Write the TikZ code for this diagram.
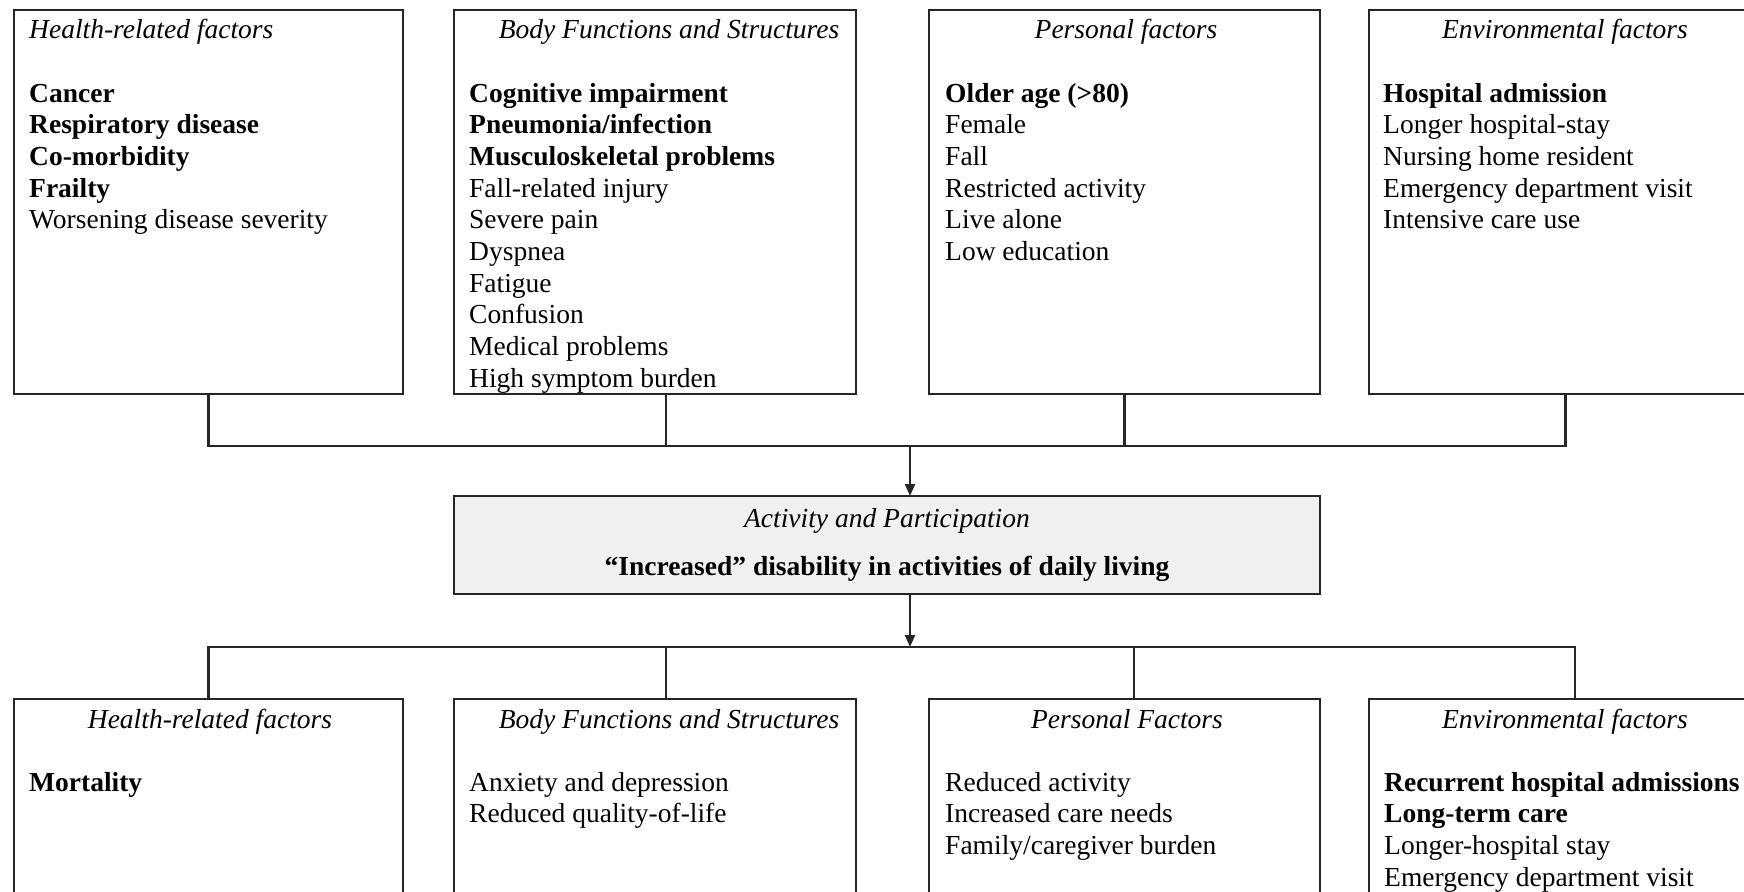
\documentclass[tikz,border=0pt]{standalone}
\usepackage{fontspec}
\setmainfont{Liberation Serif}
\usetikzlibrary{arrows.meta}
\begin{document}
\begin{tikzpicture}[x=1pt,y=-1pt,
  every node/.style={font=\fontsize{27.5pt}{31.7pt}\selectfont, text=black},
  box/.style={draw=black!85, line width=2.6pt, outer sep=0pt, inner sep=0pt, rectangle},
  link/.style={draw=black!85, line width=2.2pt},
  arr/.style={link, -{Triangle[length=12pt,width=10pt]}},
  head/.style={font=\fontsize{27.5pt}{31.7pt}\selectfont\itshape, inner sep=0pt, anchor=base},
  items/.style={inner sep=0pt, anchor=base west}]
\useasboundingbox (0,0) rectangle (1744,891);

% ---------- boxes ----------
\node[box, minimum width=389pt, minimum height=384pt] (t1) at (208.5,202) {};
\node[box, minimum width=402pt, minimum height=384pt] (t2) at (655,202) {};
\node[box, minimum width=391pt, minimum height=384pt] (t3) at (1124.5,202) {};
\node[box, minimum width=393pt, minimum height=384pt] (t4) at (1565.5,202) {};
\node[box, fill=black!6, minimum width=866pt, minimum height=98pt] (m) at (887,545) {};
\node[box, minimum width=389pt, minimum height=200pt] (b1) at (208.5,799) {};
\node[box, minimum width=402pt, minimum height=200pt] (b2) at (655,799) {};
\node[box, minimum width=391pt, minimum height=200pt] (b3) at (1124.5,799) {};
\node[box, minimum width=393pt, minimum height=200pt] (b4) at (1565.5,799) {};

% ---------- connectors ----------
\coordinate (hub1) at (910,446);
\coordinate (hub2) at (910,647);
\coordinate (d2) at (666,394);
\coordinate (e2) at (666,699);
\coordinate (e3) at (1134,699);
\coordinate (e4) at (1575,699);

\draw[link] (t1.south) |- (hub1) -| (t4.south);
\draw[link] (d2) -- (d2 |- hub1);
\draw[link] (t3.south) -- (t3.south |- hub1);
\draw[arr] (hub1) -- (hub1 |- m.north);
\draw[arr] (m.south -| hub1) -- (hub2);
\draw[link] (b1.north) |- (hub2) -| (e4);
\draw[link] (e2) -- (e2 |- hub2);
\draw[link] (e3) -- (e3 |- hub2);

% ---------- top row ----------
\node[head, anchor=base west] (t1h) at (29,38.5) {Health-related factors};
\node[head] (t2h) at (669,38.5) {Body Functions and Structures};
\node[head] (t3h) at (1126,38.5) {Personal factors};
\node[head] (t4h) at (1565,38.5) {Environmental factors};

\node[items] (t1i) at (29,102) {\begin{tabular}[t]{@{}l@{}}
\textbf{Cancer}\\
\textbf{Respiratory disease}\\
\textbf{Co-morbidity}\\
\textbf{Frailty}\\
Worsening disease severity
\end{tabular}};
\node[items] (t2i) at (469,102) {\begin{tabular}[t]{@{}l@{}}
\textbf{Cognitive impairment}\\
\textbf{Pneumonia/infection}\\
\textbf{Musculoskeletal problems}\\
Fall-related injury\\
Severe pain\\
Dyspnea\\
Fatigue\\
Confusion\\
Medical problems\\
High symptom burden
\end{tabular}};
\node[items] (t3i) at (945,102) {\begin{tabular}[t]{@{}l@{}}
\textbf{Older age (>80)}\\
Female\\
Fall\\
Restricted activity\\
Live alone\\
Low education
\end{tabular}};
\node[items] (t4i) at (1383,102) {\begin{tabular}[t]{@{}l@{}}
\textbf{Hospital admission}\\
Longer hospital-stay\\
Nursing home resident\\
Emergency department visit\\
Intensive care use
\end{tabular}};

% ---------- middle ----------
\node[head] (mh) at (887,527) {Activity and Participation};
\node[inner sep=0pt, anchor=base] (mt) at (887,575) {\textbf{“Increased” disability in activities of daily living}};

% ---------- bottom row ----------
\node[head] (b1h) at (210,728) {Health-related factors};
\node[head] (b2h) at (669,728) {Body Functions and Structures};
\node[head] (b3h) at (1127,728) {Personal Factors};
\node[head] (b4h) at (1565,728) {Environmental factors};

\node[items] (b1i) at (29,791) {\textbf{Mortality}};
\node[items] (b2i) at (469,791) {\begin{tabular}[t]{@{}l@{}}
Anxiety and depression\\
Reduced quality-of-life
\end{tabular}};
\node[items] (b3i) at (945,791) {\begin{tabular}[t]{@{}l@{}}
Reduced activity\\
Increased care needs\\
Family/caregiver burden
\end{tabular}};
\node[items] (b4i) at (1384,791) {\begin{tabular}[t]{@{}l@{}}
\textbf{Recurrent hospital admissions}\\
\textbf{Long-term care}\\
Longer-hospital stay\\
Emergency department visit
\end{tabular}};
\end{tikzpicture}
\end{document}
